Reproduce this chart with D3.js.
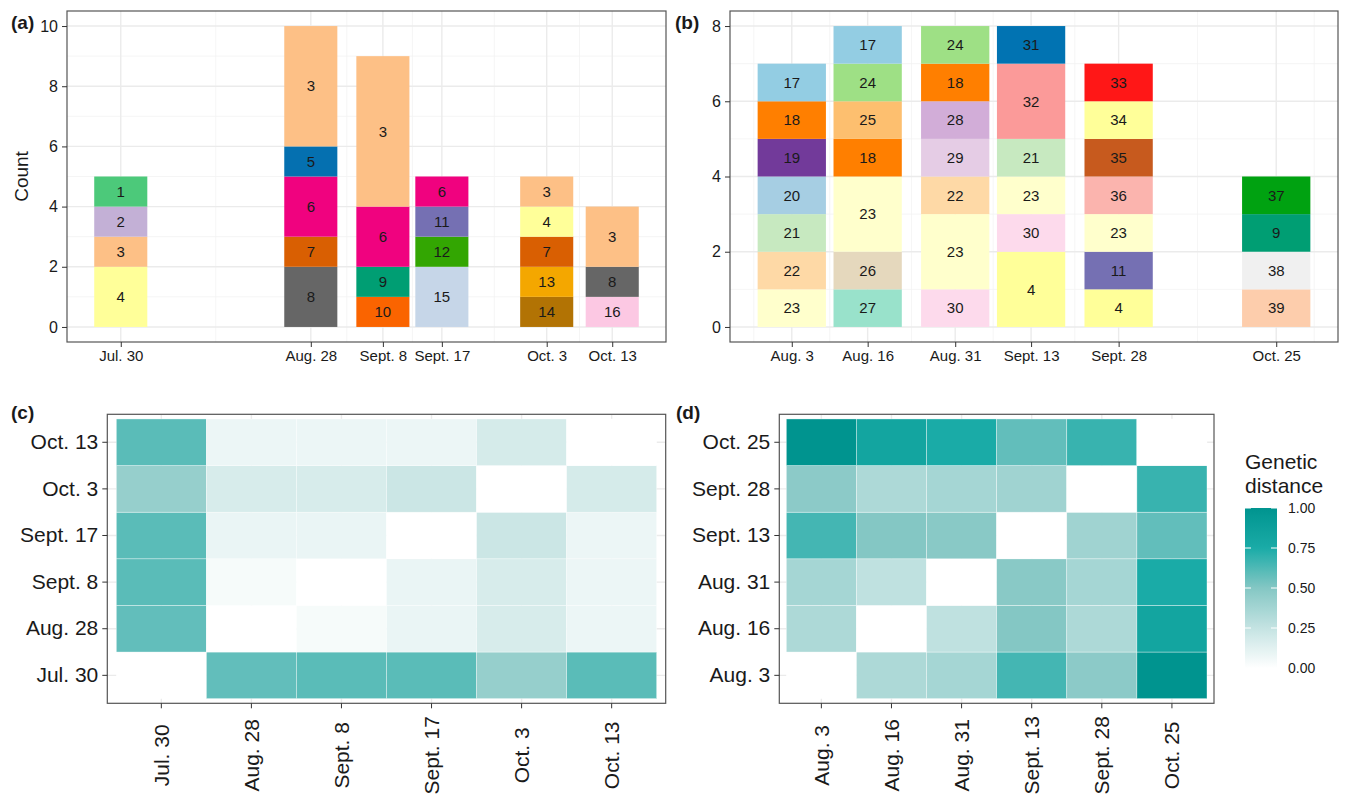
<!DOCTYPE html>
<html>
<head>
<meta charset="utf-8">
<script src="https://cdnjs.cloudflare.com/ajax/libs/d3/7.8.5/d3.min.js"></script>
<style>
body { margin:0; background:#fff; }
svg text { font-family:"Liberation Sans", Arial, sans-serif; fill:#1a1a1a; }
.axis path.domain { display:none; }
.axis line { stroke:#333; }
</style>
</head>
<body>
<div class="canvas"></div>
<script>
// ---- DATA ------------------------------------------------------------------------------
var parseDate = d3.timeParse('%Y-%m-%d');

// panel (a): sampling dates, strains stacked bottom -> top and their counts
var datesA = ['2018-07-30','2018-08-28','2018-09-08','2018-09-17','2018-10-03','2018-10-13'];
var labelsA = ['Jul. 30','Aug. 28','Sept. 8','Sept. 17','Oct. 3','Oct. 13'];
var strainsA = [[4,3,2,1],[8,7,6,5,3],[10,9,6,3],[15,12,11,6],[14,13,7,4,3],[16,8,3]];
var countsA  = [[2,1,1,1],[2,1,2,1,4],[1,1,2,5],[2,1,1,1],[1,1,1,1,1],[1,1,2]];
var yTicksA = [0,2,4,6,8,10];

// panel (b)
var datesB = ['2018-08-03','2018-08-16','2018-08-31','2018-09-13','2018-09-28','2018-10-25'];
var labelsB = ['Aug. 3','Aug. 16','Aug. 31','Sept. 13','Sept. 28','Oct. 25'];
var strainsB = [[23,22,21,20,19,18,17],[27,26,23,18,25,24,17],[30,23,22,29,28,18,24],
                [4,30,23,21,32,31],[4,11,23,36,35,34,33],[39,38,9,37]];
var countsB  = [[1,1,1,1,1,1,1],[1,1,2,1,1,1,1],[1,2,1,1,1,1,1],
                [2,1,1,1,2,1],[1,1,1,1,1,1,1],[1,1,1,1]];
var yTicksB = [0,2,4,6,8];

// strain colours, strain 1..39
var strainColors = ['#4CC97A','#C3B0D6','#FDC086','#FFFF99','#0570B0','#F0027F','#D95F02','#666666',
    '#009E73','#FA6400','#7570B3','#33A602','#F4A700','#B27304','#C6D6E8','#FCC8E3','#93CDE3',
    '#FF7F00','#723A9A','#A6CEE3','#C7E9C0','#FED9A6','#FFFFCC','#9EE085','#FDBF6F','#E5D8BD',
    '#99E2CB','#D2ADD8','#E5CCE5','#FDDAEC','#0173B2','#FB9A99','#FF1717','#FFFF99','#C75A1E',
    '#FBB4AE','#00A211','#F0F0F0','#FDCDAC'];

// panels (c) and (d): genetic distance matrices, rows/cols in date order
var distC = [
    [0,    0.58, 0.60, 0.60, 0.43, 0.60],
    [0.58, 0,    0.04, 0.09, 0.17, 0.08],
    [0.60, 0.04, 0,    0.09, 0.17, 0.08],
    [0.60, 0.09, 0.09, 0,    0.22, 0.08],
    [0.43, 0.17, 0.17, 0.22, 0,    0.18],
    [0.60, 0.08, 0.08, 0.08, 0.18, 0   ]
];
var distD = [
    [0,    0.34, 0.37, 0.65, 0.47, 1.00],
    [0.34, 0,    0.27, 0.50, 0.34, 0.82],
    [0.37, 0.27, 0,    0.48, 0.37, 0.75],
    [0.65, 0.50, 0.48, 0,    0.39, 0.58],
    [0.47, 0.34, 0.37, 0.39, 0,    0.68],
    [1.00, 0.82, 0.75, 0.58, 0.68, 0   ]
];
var legendTicks = [0, 0.25, 0.5, 0.75, 1];


// ---- CONVENTIONS -----------------------------------------------------------------------
var outerWidth = 1345, outerHeight = 796;

var svg = d3.select('.canvas')
    .append('svg')
    .attr('width', outerWidth)
    .attr('height', outerHeight);

var scaleFill = d3.scaleLinear()
    .domain([0, 0.25, 0.5, 0.75, 1])
    .range(['#FFFFFF','#C4E3E2','#84C7C4','#1AABA7','#00948F']);

var DAY = 24*3600*1000;

// ---- DRAW ------------------------------------------------------------------------------
drawBars({dates:datesA, labels:labelsA, strains:strainsA, counts:countsA, yTicks:yTicksA,
    left:67, right:666, top:11, bottom:342, letter:'(a)', letterX:11, yTitle:'Count'});
drawBars({dates:datesB, labels:labelsB, strains:strainsB, counts:countsB, yTicks:yTicksB,
    left:730, right:1338, top:11, bottom:342, letter:'(b)', letterX:675});

drawHeat({labels:labelsA, dist:distC, left:107.3, right:665.7, top:414.3, bottom:703.3,
    letter:'(c)', letterX:11});
drawHeat({labels:labelsB, dist:distD, left:779.3, right:1214, top:414.3, bottom:703.3,
    letter:'(d)', letterX:676});

drawLegend();


// ---- BAR FUNCTION ----------------------------------------------------------------------
function drawBars(cfg){
    var dates = cfg.dates.map(parseDate);
    var gaps = d3.pairs(dates, function(a, b){ return (b - a)/DAY; });
    var barDays = 0.9 * d3.min(gaps);
    var span = (dates[dates.length-1] - dates[0])/DAY;
    var pad = 0.05*(span + barDays) + barDays/2;

    var totals = cfg.counts.map(function(c){ return d3.sum(c); });
    var yMax = d3.max(totals);

    var scaleX = d3.scaleTime()
        .domain([new Date(+dates[0] - pad*DAY), new Date(+dates[dates.length-1] + pad*DAY)])
        .range([cfg.left, cfg.right]);
    var scaleY = d3.scaleLinear()
        .domain([-0.05*yMax, 1.05*yMax])
        .range([cfg.bottom, cfg.top]);

    var plot = svg.append('g');

    // minor breaks, ggplot style
    var b = dates.slice();
    var bd = b[1] - b[0];
    var dom = scaleX.domain();
    if (dom[0] < b[0]) b.unshift(new Date(+b[0] - bd));
    if (dom[1] > b[b.length-1]) b.push(new Date(+b[b.length-1] + bd));
    var minorX = d3.pairs(b, function(a, c){ return new Date((+a + +c)/2); })
        .filter(function(d){ return d > dom[0] && d < dom[1]; });
    var minorY = d3.pairs(cfg.yTicks, function(a, c){ return (a + c)/2; });

    plot.selectAll('.minor-x').data(minorX).enter().append('line')
        .attr('x1', function(d){ return scaleX(d); }).attr('x2', function(d){ return scaleX(d); })
        .attr('y1', cfg.top).attr('y2', cfg.bottom)
        .style('stroke', '#F2F2F2').style('stroke-width', 0.8);
    plot.selectAll('.minor-y').data(minorY).enter().append('line')
        .attr('y1', function(d){ return scaleY(d); }).attr('y2', function(d){ return scaleY(d); })
        .attr('x1', cfg.left).attr('x2', cfg.right)
        .style('stroke', '#F2F2F2').style('stroke-width', 0.8);
    plot.selectAll('.major-x').data(dates).enter().append('line')
        .attr('x1', function(d){ return scaleX(d); }).attr('x2', function(d){ return scaleX(d); })
        .attr('y1', cfg.top).attr('y2', cfg.bottom)
        .style('stroke', '#EBEBEB').style('stroke-width', 1.4);
    plot.selectAll('.major-y').data(cfg.yTicks).enter().append('line')
        .attr('y1', function(d){ return scaleY(d); }).attr('y2', function(d){ return scaleY(d); })
        .attr('x1', cfg.left).attr('x2', cfg.right)
        .style('stroke', '#EBEBEB').style('stroke-width', 1.4);

    // stacked segments
    var segs = [];
    dates.forEach(function(dt, i){
        var y0 = 0;
        cfg.strains[i].forEach(function(s, j){
            var n = cfg.counts[i][j];
            segs.push({date:dt, strain:s, y0:y0, y1:y0 + n});
            y0 += n;
        });
    });

    var halfBar = barDays/2*DAY;
    plot.selectAll('.seg').data(segs).enter().append('rect')
        .attr('class', 'seg')
        .attr('x', function(d){ return scaleX(new Date(+d.date - halfBar)); })
        .attr('width', function(d){ return scaleX(new Date(+d.date + halfBar)) - scaleX(new Date(+d.date - halfBar)); })
        .attr('y', function(d){ return scaleY(d.y1); })
        .attr('height', function(d){ return scaleY(d.y0) - scaleY(d.y1); })
        .style('fill', function(d){ return strainColors[d.strain - 1]; });

    plot.selectAll('.seg-label').data(segs).enter().append('text')
        .attr('x', function(d){ return scaleX(d.date); })
        .attr('y', function(d){ return scaleY((d.y0 + d.y1)/2); })
        .attr('dy', '0.35em')
        .attr('text-anchor', 'middle')
        .style('font-size', '15px')
        .text(function(d){ return d.strain; });

    // frame
    plot.append('rect')
        .attr('x', cfg.left).attr('y', cfg.top)
        .attr('width', cfg.right - cfg.left).attr('height', cfg.bottom - cfg.top)
        .style('fill', 'none').style('stroke', '#555').style('stroke-width', 1.2);

    // axes
    var axisX = d3.axisBottom(scaleX)
        .tickValues(dates)
        .tickFormat(function(d, i){ return cfg.labels[i]; })
        .tickSize(5).tickPadding(3);
    var axisY = d3.axisLeft(scaleY)
        .tickValues(cfg.yTicks)
        .tickSize(5).tickPadding(4);

    plot.append('g').attr('class', 'axis axis-x')
        .attr('transform', 'translate(0,' + cfg.bottom + ')')
        .call(axisX)
        .selectAll('text').style('font-size', '15px').style('fill', '#1a1a1a');
    plot.append('g').attr('class', 'axis axis-y')
        .attr('transform', 'translate(' + cfg.left + ',0)')
        .call(axisY)
        .selectAll('text').style('font-size', '16px').style('fill', '#1a1a1a');

    if (cfg.yTitle) {
        plot.append('text')
            .attr('transform', 'translate(28,' + (cfg.top + cfg.bottom)/2 + ') rotate(-90)')
            .attr('text-anchor', 'middle')
            .style('font-size', '19px')
            .text(cfg.yTitle);
    }

    plot.append('text')
        .attr('x', cfg.letterX).attr('y', cfg.top + 18)
        .style('font-size', '19px').style('font-weight', 'bold')
        .text(cfg.letter);
}


// ---- HEATMAP FUNCTION ------------------------------------------------------------------
function drawHeat(cfg){
    var scaleX = d3.scaleBand()
        .domain(cfg.labels)
        .range([cfg.left, cfg.right])
        .paddingInner(0).paddingOuter(0.1);
    var scaleY = d3.scaleBand()
        .domain(cfg.labels)
        .range([cfg.bottom, cfg.top])
        .paddingInner(0).paddingOuter(0.1);

    var plot = svg.append('g');

    plot.selectAll('.grid-x').data(cfg.labels).enter().append('line')
        .attr('x1', function(d){ return scaleX(d) + scaleX.bandwidth()/2; })
        .attr('x2', function(d){ return scaleX(d) + scaleX.bandwidth()/2; })
        .attr('y1', cfg.top).attr('y2', cfg.bottom)
        .style('stroke', '#EBEBEB').style('stroke-width', 1.4);
    plot.selectAll('.grid-y').data(cfg.labels).enter().append('line')
        .attr('y1', function(d){ return scaleY(d) + scaleY.bandwidth()/2; })
        .attr('y2', function(d){ return scaleY(d) + scaleY.bandwidth()/2; })
        .attr('x1', cfg.left).attr('x2', cfg.right)
        .style('stroke', '#EBEBEB').style('stroke-width', 1.4);

    var cells = [];
    cfg.dist.forEach(function(row, i){
        row.forEach(function(v, j){
            cells.push({row:cfg.labels[i], col:cfg.labels[j], value:v});
        });
    });

    plot.selectAll('.cell').data(cells).enter().append('rect')
        .attr('x', function(d){ return scaleX(d.col); })
        .attr('y', function(d){ return scaleY(d.row); })
        .attr('width', scaleX.bandwidth())
        .attr('height', scaleY.bandwidth())
        .style('fill', function(d){ return scaleFill(d.value); })
        .style('stroke', '#ffffff').style('stroke-width', 0.6).style('stroke-opacity', 0.6);

    plot.append('rect')
        .attr('x', cfg.left).attr('y', cfg.top)
        .attr('width', cfg.right - cfg.left).attr('height', cfg.bottom - cfg.top)
        .style('fill', 'none').style('stroke', '#555').style('stroke-width', 1.2);

    var axisX = d3.axisBottom(scaleX).tickSize(5);
    var axisY = d3.axisLeft(scaleY).tickSize(5).tickPadding(4);

    plot.append('g').attr('class', 'axis axis-x')
        .attr('transform', 'translate(0,' + cfg.bottom + ')')
        .call(axisX)
        .selectAll('text')
        .attr('y', 0).attr('x', 0)
        .attr('dy', '0.35em')
        .attr('transform', 'translate(0,52) rotate(-90)')
        .attr('text-anchor', 'middle')
        .style('font-size', '21px').style('fill', '#1a1a1a');
    plot.append('g').attr('class', 'axis axis-y')
        .attr('transform', 'translate(' + cfg.left + ',0)')
        .call(axisY)
        .selectAll('text').style('font-size', '21px').style('fill', '#1a1a1a');

    plot.append('text')
        .attr('x', cfg.letterX).attr('y', cfg.top + 5)
        .style('font-size', '19px').style('font-weight', 'bold')
        .text(cfg.letter);
}


// ---- LEGEND ----------------------------------------------------------------------------
function drawLegend(){
    var lx = 1245, lw = 32;
    var scaleL = d3.scaleLinear().domain([0, 1]).range([668, 508]);

    var grad = svg.append('defs').append('linearGradient')
        .attr('id', 'gd').attr('x1', 0).attr('y1', 1).attr('x2', 0).attr('y2', 0);
    grad.selectAll('stop').data(d3.range(0, 1.0001, 0.05)).enter().append('stop')
        .attr('offset', function(d){ return d; })
        .attr('stop-color', function(d){ return scaleFill(d); });

    var g = svg.append('g');
    g.append('text').attr('x', lx).attr('y', 469).style('font-size', '21px').text('Genetic');
    g.append('text').attr('x', lx).attr('y', 493).style('font-size', '21px').text('distance');

    g.append('rect')
        .attr('x', lx).attr('y', scaleL(1))
        .attr('width', lw).attr('height', scaleL(0) - scaleL(1))
        .style('fill', 'url(#gd)');

    g.selectAll('.tick-l').data(legendTicks).enter().append('line')
        .attr('x1', lx).attr('x2', lx + 6)
        .attr('y1', function(d){ return scaleL(d); }).attr('y2', function(d){ return scaleL(d); })
        .style('stroke', '#fff').style('stroke-width', 1);
    g.selectAll('.tick-r').data(legendTicks).enter().append('line')
        .attr('x1', lx + lw - 6).attr('x2', lx + lw)
        .attr('y1', function(d){ return scaleL(d); }).attr('y2', function(d){ return scaleL(d); })
        .style('stroke', '#fff').style('stroke-width', 1);

    g.selectAll('.lab-l').data(legendTicks).enter().append('text')
        .attr('x', lx + lw + 11)
        .attr('y', function(d){ return scaleL(d); })
        .attr('dy', '0.35em')
        .style('font-size', '14px')
        .text(function(d){ return d3.format('.2f')(d); });
}
</script>
</body>
</html>
